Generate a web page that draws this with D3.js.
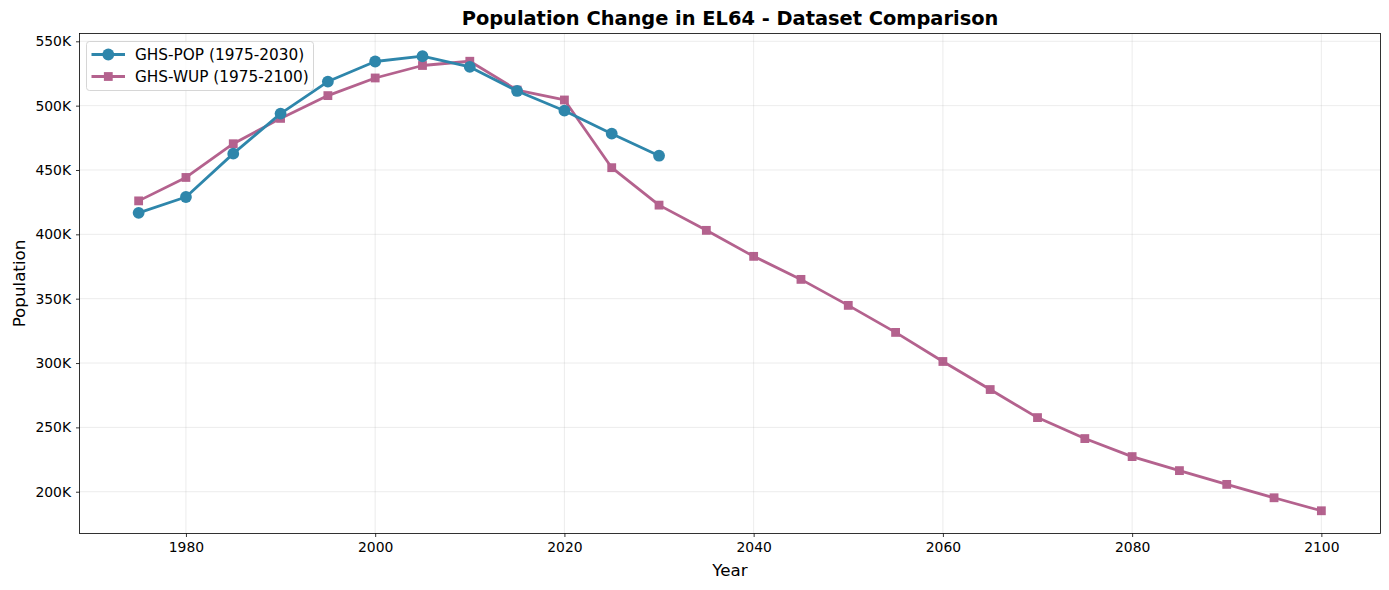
<!DOCTYPE html>
<html>
<head>
<meta charset="utf-8">
<script src="https://cdn.jsdelivr.net/npm/d3@7/dist/d3.min.js"></script>
<style>
  html, body { margin: 0; padding: 0; background: #fff; }
  svg { display: block; font-family: "DejaVu Sans", sans-serif; }
</style>
</head>
<body>
<svg id="chart" width="1389" height="590"></svg>
<script>
const title = "Population Change in EL64 - Dataset Comparison";
const popYears = [1975, 1980, 1985, 1990, 1995, 2000, 2005, 2010, 2015, 2020, 2025, 2030];
const popValues = [416700, 429000, 462700, 493800, 518700, 534300, 538400, 530100, 511400, 496100, 478200, 461100];
const wupYears = [1975, 1980, 1985, 1990, 1995, 2000, 2005, 2010, 2015, 2020, 2025, 2030, 2035, 2040, 2045, 2050, 2055, 2060, 2065, 2070, 2075, 2080, 2085, 2090, 2095, 2100];
const wupValues = [426000, 444200, 470400, 490100, 507800, 521500, 531200, 534500, 512100, 504400, 451800, 422700, 403100, 382900, 365000, 344800, 323800, 301200, 279400, 257600, 241300, 227300, 216400, 205700, 195300, 185200];
const xTicks = [1980, 2000, 2020, 2040, 2060, 2080, 2100];
const yTicks = [200000, 250000, 300000, 350000, 400000, 450000, 500000, 550000];
const seriesNames = ["GHS-POP (1975-2030)", "GHS-WUP (1975-2100)"];

const svg = d3.select("#chart");
const L = 79.5, R = 1380.5, T = 33.5, B = 533.5;

const allYears = popYears.concat(wupYears);
const allVals = popValues.concat(wupValues);
const xMin = d3.min(allYears), xMax = d3.max(allYears);
const yMin = d3.min(allVals), yMax = d3.max(allVals);
const xm = (xMax - xMin) * 0.05, ym = (yMax - yMin) * 0.05;

const x = d3.scaleLinear().domain([xMin - xm, xMax + xm]).range([L, R]);
const y = d3.scaleLinear().domain([yMin - ym, yMax + ym]).range([B, T]);

// grid
const grid = svg.append("g");
grid.selectAll(".gx").data(xTicks).enter().append("line")
  .attr("x1", d => x(d)).attr("x2", d => x(d)).attr("y1", T).attr("y2", B)
  .attr("stroke", "#b0b0b0").attr("stroke-opacity", 0.3).attr("stroke-width", 0.8);
grid.selectAll(".gy").data(yTicks).enter().append("line")
  .attr("y1", d => y(d)).attr("y2", d => y(d)).attr("x1", L).attr("x2", R)
  .attr("stroke", "#b0b0b0").attr("stroke-opacity", 0.3).attr("stroke-width", 0.8);

// axes
const fmtK = d => (d / 1000) + "K";
const xAxis = svg.append("g").attr("transform", `translate(0,${B})`)
  .call(d3.axisBottom(x).tickValues(xTicks).tickFormat(d3.format("d")).tickSize(3.5).tickPadding(5));
const yAxis = svg.append("g").attr("transform", `translate(${L},0)`)
  .call(d3.axisLeft(y).tickValues(yTicks).tickFormat(fmtK).tickSize(3.5).tickPadding(5));
[xAxis, yAxis].forEach(a => {
  a.select(".domain").remove();
  a.selectAll("text").attr("font-size", "13.9px").attr("fill", "#000").attr("font-family", "DejaVu Sans");
  a.selectAll("line").attr("stroke", "#000").attr("stroke-width", 0.8);
});
xAxis.selectAll("text").attr("dy", "0.71em");

// frame
svg.append("rect").attr("x", L).attr("y", T).attr("width", R - L).attr("height", B - T)
  .attr("fill", "none").attr("stroke", "#000").attr("stroke-width", 0.8);

// lines
const line = d3.line().x(d => x(d[0])).y(d => y(d[1]));
const popData = popYears.map((yr, i) => [yr, popValues[i]]);
const wupData = wupYears.map((yr, i) => [yr, wupValues[i]]);
const popColor = "#2E86AB", wupColor = "#A23B72";

const gw = svg.append("g").attr("opacity", 0.8);
gw.append("path").datum(wupData).attr("d", line).attr("fill", "none")
  .attr("stroke", wupColor).attr("stroke-width", 2.78).attr("stroke-linejoin", "round");
gw.selectAll("rect").data(wupData).enter().append("rect")
  .attr("x", d => x(d[0]) - 4.4).attr("y", d => y(d[1]) - 4.4)
  .attr("width", 8.8).attr("height", 8.8).attr("fill", wupColor);

svg.append("path").datum(popData).attr("d", line).attr("fill", "none")
  .attr("stroke", popColor).attr("stroke-width", 2.78).attr("stroke-linejoin", "round");
svg.selectAll("circle.pop").data(popData).enter().append("circle")
  .attr("class", "pop").attr("cx", d => x(d[0])).attr("cy", d => y(d[1]))
  .attr("r", 5.9).attr("fill", popColor);

// labels
svg.append("text").attr("x", (L + R) / 2).attr("y", 25).attr("text-anchor", "middle")
  .attr("font-size", "19.4px").attr("font-weight", "bold").text(title);
svg.append("text").attr("x", (L + R) / 2).attr("y", 576).attr("text-anchor", "middle")
  .attr("font-size", "16.7px").text("Year");
svg.append("text").attr("transform", `translate(25,${(T + B) / 2}) rotate(-90)`)
  .attr("text-anchor", "middle").attr("font-size", "16.7px").text("Population");

// legend
const lg = svg.append("g");
lg.append("rect").attr("x", 86.5).attr("y", 41.5).attr("width", 227).attr("height", 49)
  .attr("rx", 3).attr("fill", "#fff").attr("fill-opacity", 0.8)
  .attr("stroke", "#cccccc").attr("stroke-width", 0.8);
const rows = [
  { name: seriesNames[0], color: popColor, shape: "circle", yy: 54.5, op: 1 },
  { name: seriesNames[1], color: wupColor, shape: "square", yy: 76.5, op: 0.8 }
];
rows.forEach(r => {
  const g = lg.append("g").attr("opacity", r.op);
  g.append("line").attr("x1", 91.5).attr("x2", 125).attr("y1", r.yy).attr("y2", r.yy)
    .attr("stroke", r.color).attr("stroke-width", 2.78);
  if (r.shape === "circle") {
    g.append("circle").attr("cx", 108.3).attr("cy", r.yy).attr("r", 5.9).attr("fill", r.color);
  } else {
    g.append("rect").attr("x", 108.3 - 4.4).attr("y", r.yy - 4.4).attr("width", 8.8).attr("height", 8.8).attr("fill", r.color);
  }
  lg.append("text").attr("x", 135).attr("y", r.yy).attr("dy", "0.36em")
    .attr("font-size", "15.3px").text(r.name);
});
</script>
</body>
</html>
